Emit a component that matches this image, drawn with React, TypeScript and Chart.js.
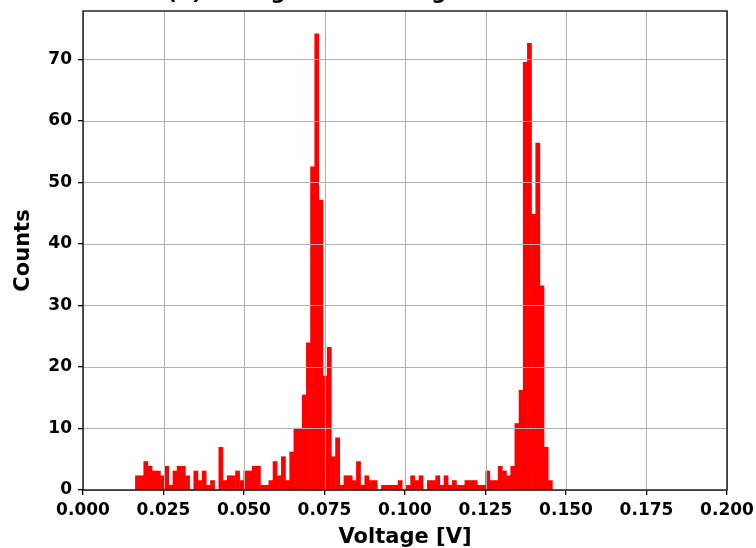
import React, { useEffect, useRef } from "react";
import { Chart, registerables } from "chart.js";

Chart.register(...registerables);

// Histogram bins (density values)
const BIN_START = 0.01627;
const BIN_WIDTH = 0.001295;

const lowTail = [
  2.32, 2.32, 4.63, 3.86, 3.09, 3.09, 2.32, 3.86, 0.77, 3.09,
  3.86, 3.86, 2.32, 0, 3.09, 1.54, 3.09, 0.77, 1.54, 0,
  6.95, 1.54, 2.32, 2.32, 3.09, 1.54, 3.09, 3.09, 3.86, 3.86,
  0.77, 0.77, 1.54, 4.63, 2.32, 5.41, 1.54, 6.18, 10.04, 10.04,
];
const firstPeak = [15.44, 23.94, 52.51, 74.13, 47.1, 18.53, 23.17, 5.41, 8.49];
const middle = [
  0.77, 2.32, 2.32, 1.54, 4.63, 0.77, 2.32, 1.54, 1.54, 0,
  0.77, 0.77, 0.77, 0.77, 1.54, 0, 0.77, 2.32, 1.54, 2.32,
  0, 1.54, 1.54, 2.32, 0.77, 2.32, 0.77, 1.54, 0.77, 0.77,
  1.54, 1.54, 1.54, 0.77, 0.77, 3.09, 1.54, 1.54, 3.86, 3.09,
  2.32, 3.86,
];
const secondPeak = [10.81, 16.22, 69.5, 72.59, 44.79, 56.37, 33.2, 6.95, 1.54];

const xTicks = [0, 0.025, 0.05, 0.075, 0.1, 0.125, 0.15, 0.175, 0.2];
const yTicks = [0, 10, 20, 30, 40, 50, 60, 70];
const X_MIN = 0;
const X_MAX = 0.2;
const Y_MAX = 77.84;

const TITLE = "(b) Histogram of Voltage Measurements";
const X_LABEL = "Voltage [V]";
const Y_LABEL = "Counts";
const FONT = '"DejaVu Sans", sans-serif';

const overlayPlugin = {
  id: "overlay",
  afterDatasetsDraw(chart: any) {
    const { ctx, chartArea: a, scales } = chart;
    const x = scales.x;
    const y = scales.y;
    ctx.save();
    ctx.strokeStyle = "#b0b0b0";
    ctx.lineWidth = 1;
    xTicks.forEach((v) => {
      const px = Math.round(x.getPixelForValue(v)) + 0.5;
      ctx.beginPath();
      ctx.moveTo(px, a.top);
      ctx.lineTo(px, a.bottom);
      ctx.stroke();
    });
    yTicks.forEach((v) => {
      const py = Math.round(y.getPixelForValue(v)) + 0.5;
      ctx.beginPath();
      ctx.moveTo(a.left, py);
      ctx.lineTo(a.right, py);
      ctx.stroke();
    });
    ctx.strokeStyle = "#000";
    ctx.lineWidth = 1.3;
    ctx.strokeRect(a.left, a.top, a.right - a.left, a.bottom - a.top);
    ctx.fillStyle = "#000";
    ctx.font = `bold 21px ${FONT}`;
    ctx.textAlign = "center";
    ctx.textBaseline = "alphabetic";
    ctx.fillText(TITLE, (a.left + a.right) / 2, -1.5);
    ctx.restore();
  },
};

export default function App() {
  const ref = useRef<HTMLCanvasElement>(null);
  useEffect(() => {
    document.body.style.margin = "0";
    const values = [...lowTail, ...firstPeak, ...middle, ...secondPeak];
    const data = values.map((v, i) => ({ x: BIN_START + BIN_WIDTH * (i + 0.5), y: v }));
    const chart = new Chart(ref.current as HTMLCanvasElement, {
      type: "bar",
      data: {
        datasets: [
          {
            data,
            backgroundColor: "#ff0000",
            borderWidth: 0,
            barPercentage: 1,
            categoryPercentage: 1,
            inflateAmount: 0.3,
          } as any,
        ],
      },
      options: {
        responsive: false,
        animation: false,
        devicePixelRatio: 1,
        layout: { padding: { left: 0, right: 29, top: 11, bottom: 0 } },
        plugins: { legend: { display: false }, tooltip: { enabled: false }, title: { display: false } },
        scales: {
          x: {
            type: "linear",
            min: X_MIN,
            max: X_MAX,
            offset: false,
            afterBuildTicks: (s: any) => {
              s.ticks = xTicks.map((v) => ({ value: v }));
            },
            afterFit: (s: any) => {
              s.height = 58;
              s.paddingLeft = 0;
              s.paddingRight = 0;
              s.paddingTop = 0;
              s.paddingBottom = 0;
            },
            grid: { offset: false, drawOnChartArea: false, drawTicks: true, tickLength: 5, tickColor: "#000", lineWidth: 1.3 },
            border: { display: false },
            ticks: {
              color: "#000",
              padding: 5,
              maxRotation: 0,
              autoSkip: false,
              font: { family: FONT, size: 17, weight: "bold" },
              callback: (v: any) => Number(v).toFixed(3),
            },
            title: {
              display: true,
              text: X_LABEL,
              color: "#000",
              font: { family: FONT, size: 21, weight: "bold" },
              padding: { top: 0, bottom: -2 },
            },
          },
          y: {
            type: "linear",
            min: 0,
            max: Y_MAX,
            afterBuildTicks: (s: any) => {
              s.ticks = yTicks.map((v) => ({ value: v }));
            },
            afterFit: (s: any) => {
              s.width = 83;
              s.paddingLeft = 0;
              s.paddingRight = 0;
              s.paddingTop = 0;
              s.paddingBottom = 0;
            },
            grid: { offset: false, drawOnChartArea: false, drawTicks: true, tickLength: 5, tickColor: "#000", lineWidth: 1.3 },
            border: { display: false },
            ticks: {
              color: "#000",
              padding: 6,
              autoSkip: false,
              font: { family: FONT, size: 17, weight: "bold" },
            },
            title: {
              display: true,
              text: Y_LABEL,
              color: "#000",
              font: { family: FONT, size: 21, weight: "bold" },
              padding: { top: 11, bottom: 0 },
            },
          },
        },
      },
      plugins: [overlayPlugin],
    });
    return () => chart.destroy();
  }, []);
  return (
    <div style={{ position: "absolute", left: 0, top: 0, width: 756, height: 548, background: "#fff" }}>
      <canvas ref={ref} width={756} height={548} />
    </div>
  );
}
